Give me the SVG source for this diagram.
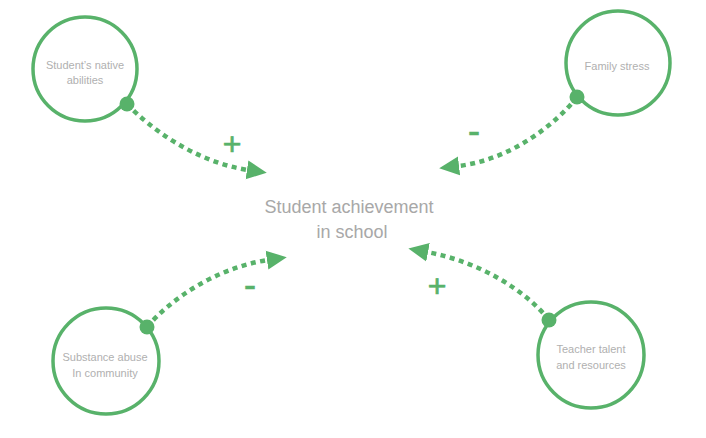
<svg xmlns="http://www.w3.org/2000/svg" width="706" height="438" viewBox="0 0 706 438">
<style>
.node{fill:#fff;stroke:#58b26a;stroke-width:3.5}
.lbl{font-family:"Liberation Sans",Arial,sans-serif;font-size:11px;fill:#b0b0b0;text-anchor:middle}
.center{font-family:"Liberation Sans",Arial,sans-serif;font-size:18px;fill:#a8a8a8;text-anchor:middle}
.link{fill:none;stroke:#58b26a;stroke-width:4.5;stroke-dasharray:5 4.5}
.dot{fill:#58b26a}
.sign{font-family:"Liberation Sans",Arial,sans-serif;fill:#58b26a;stroke:#58b26a;stroke-width:0.7;text-anchor:middle}
</style>
<defs>
<marker id="ah" markerUnits="userSpaceOnUse" markerWidth="20" markerHeight="20" viewBox="0 0 19 18" refX="1" refY="9" orient="auto">
<path d="M0,0 L19,9 L0,18 Z" fill="#58b26a"/>
</marker>
</defs>
<g id="node-native">
<circle class="node" cx="85" cy="69" r="52"/>
<text class="lbl" x="85" y="69">Student’s native</text>
<text class="lbl" x="85" y="84">abilities</text>
</g>
<g id="node-family">
<circle class="node" cx="618" cy="63" r="52"/>
<text class="lbl" x="617" y="70">Family stress</text>
</g>
<g id="node-substance">
<circle class="node" cx="106" cy="361" r="53"/>
<text class="lbl" x="105" y="361">Substance abuse</text>
<text class="lbl" x="105" y="377">In community</text>
</g>
<g id="node-teacher">
<circle class="node" cx="591" cy="355" r="53"/>
<text class="lbl" x="591" y="353">Teacher talent</text>
<text class="lbl" x="591" y="369">and resources</text>
</g>
<g id="node-achievement">
<text class="center" x="349" y="213">Student achievement</text>
<text class="center" x="352" y="238">in school</text>
</g>
<g id="connectors">
<path class="link" d="M127,104 C150,128 195,162 248,170" marker-end="url(#ah)"/>
<path class="link" d="M577,97 C555,125 510,160 458,166" marker-end="url(#ah)"/>
<path class="link" d="M147,327 C170,300 215,268 268,260" marker-end="url(#ah)"/>
<path class="link" d="M549,320 C525,290 480,262 427,252" marker-end="url(#ah)"/>
<circle class="dot" cx="127" cy="104" r="7.5"/>
<circle class="dot" cx="577" cy="97" r="7.5"/>
<circle class="dot" cx="147" cy="327" r="7.5"/>
<circle class="dot" cx="549" cy="320" r="7.5"/>
<text class="sign" x="232" y="155" font-size="32">+</text>
<text class="sign" x="474" y="143" font-size="36">-</text>
<text class="sign" x="250" y="297" font-size="36">-</text>
<text class="sign" x="437" y="297" font-size="32">+</text>
</g>
</svg>
